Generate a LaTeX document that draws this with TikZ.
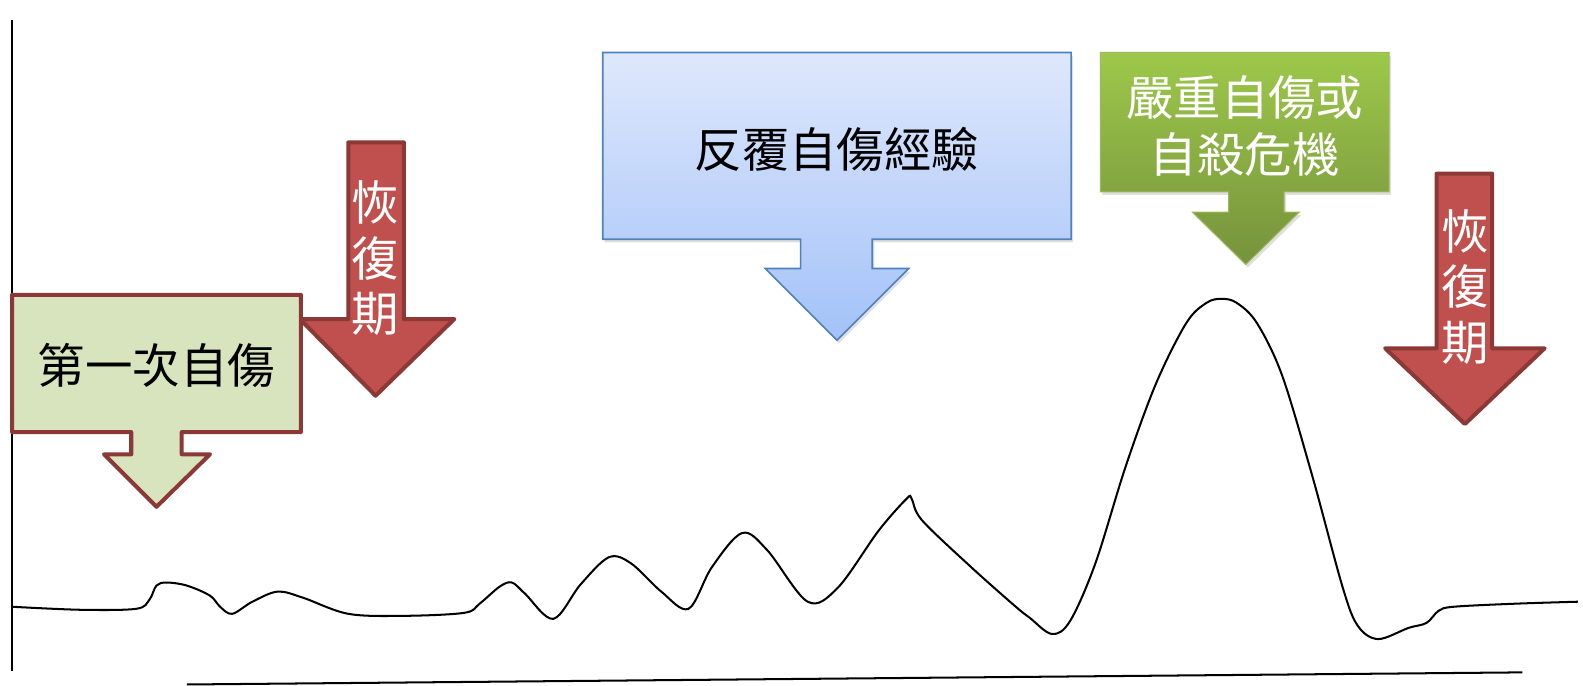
\documentclass[tikz,border=0pt]{standalone}
\usepackage{fontspec}
\setmainfont{Noto Sans CJK TC}
\usetikzlibrary{shadows}
\definecolor{redfill}{HTML}{C0504D}
\definecolor{redline}{HTML}{8C3836}
\definecolor{lgreen}{HTML}{D7E4BD}
\definecolor{blueline}{HTML}{4F81BD}
\definecolor{bluetop}{HTML}{DEE8FC}
\definecolor{bluebot}{HTML}{A3C2F8}
\definecolor{greentop}{HTML}{9DC84A}
\definecolor{greenbot}{HTML}{76923C}
\definecolor{greenline}{HTML}{9BBB59}
\begin{document}
\begin{tikzpicture}[x=0.5pt,y=-0.5pt,
  redarrow/.style={fill=redfill,draw=redline,line width=2pt,line join=round},
  firstbox/.style={fill=lgreen,draw=redline,line width=2pt,line join=round},
  bluebox/.style={top color=bluetop,bottom color=bluebot,draw=blueline,line width=0.8pt,
     drop shadow={shadow xshift=1pt,shadow yshift=-1.5pt,opacity=0.25}},
  greenbox/.style={top color=greentop,bottom color=greenbot,draw=greenline,line width=0.5pt,
     drop shadow={shadow xshift=1pt,shadow yshift=-1.5pt,opacity=0.25}},
  lbl/.style={font=\fontsize{23.5}{28}\selectfont,align=center,inner sep=0pt},
  vlbl/.style={font=\fontsize{23.5}{27.5}\selectfont,align=center,inner sep=0pt,text=white},
  axis/.style={line width=1pt,black}]
\useasboundingbox (0,0) rectangle (1568,679);
% axes
\coordinate (yt) at (12,20);
\coordinate (yb) at (12,665);
\coordinate (xl) at (185,678);
\coordinate (xr) at (1508,666);
\draw[axis] (yt) -- (yb);
\draw[axis] (xl) -- (xr);
% curve
\draw[line width=1pt,line join=round] plot[smooth,tension=0.55] coordinates {
 (12,601) (80,604) (135,603) (148,594) (155,580) (165,577) (185,580) (208,590)
 (218,601) (230,608) (250,596) (275,586) (300,592) (345,608) (400,610) (460,607)
 (475,598) (495,581) (507,577) (520,588) (548,613) (575,579) (603,552) (625,558)
 (655,586) (682,603) (705,562) (735,528) (760,545) (800,596) (830,582) (870,526)
 (898,494) (903,494) (913,515) (960,560) (1005,600) (1020,612) (1042,628) (1060,615)
 (1085,558) (1115,462) (1145,380) (1175,320) (1195,300) (1210,296) (1225,300) (1245,320) (1270,372)
 (1300,472) (1330,582) (1345,620) (1365,633) (1395,622) (1413,617) (1425,605)
 (1440,601) (1500,598) (1563,596)};
% first recovery arrow
\path[redarrow] (345,141) -- (400,141) -- (400,316) -- (450,316) -- (372,392)
  -- (297,316) -- (345,316) -- cycle;
\node[vlbl] (rec1) at (372,256) {恢\\復\\期};
% first self-harm callout
\path[firstbox] (12,292) -- (298,292) -- (298,428) -- (180,428) -- (180,450)
  -- (208,450) -- (155,502) -- (103,450) -- (130,450) -- (130,428) -- (12,428) -- cycle;
\node[lbl] (first) at (155,362) {第一次自傷};
% repeated self-harm callout
\path[bluebox] (597,52) -- (1061,52) -- (1061,237) -- (864,237) -- (864,266)
  -- (900,266) -- (829,337) -- (758,266) -- (793,266) -- (793,237) -- (597,237) -- cycle;
\node[lbl] (repeat) at (829,148) {反覆自傷經驗};
% crisis callout
\path[greenbox] (1090,52) -- (1376,52) -- (1376,190) -- (1272,190) -- (1272,210)
  -- (1287,210) -- (1234,262) -- (1181,210) -- (1217,210) -- (1217,190) -- (1090,190) -- cycle;
\node[lbl,text=white] (crisis) at (1233,125) {嚴重自傷或\\自殺危機};
% second recovery arrow
\path[redarrow] (1423,172) -- (1478,172) -- (1478,345) -- (1530,345) -- (1451,420)
  -- (1372,345) -- (1423,345) -- cycle;
\node[vlbl] (rec2) at (1451,284) {恢\\復\\期};
\end{tikzpicture}
\end{document}
